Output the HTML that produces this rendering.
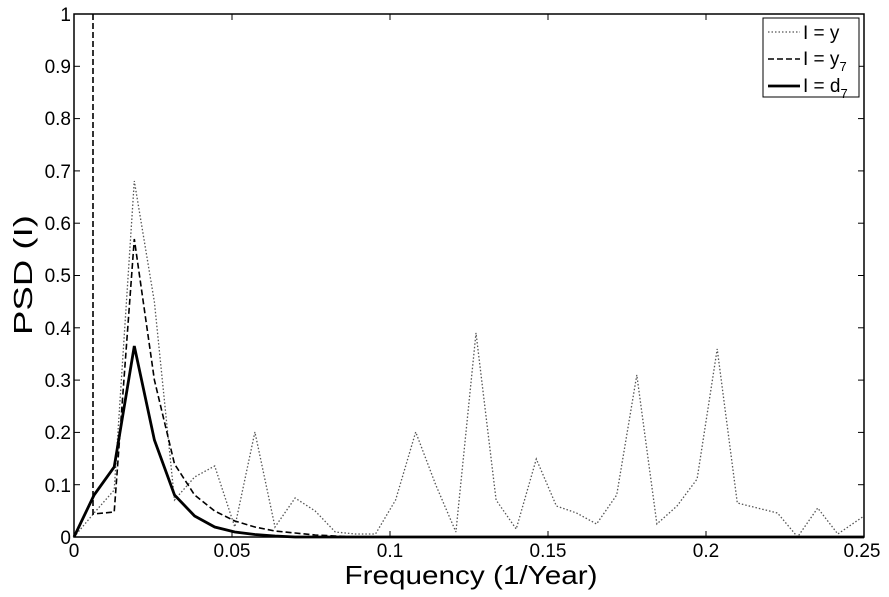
<!DOCTYPE html><html><head><style>body{margin:0;background:#fff}</style></head><body>
<svg width="889" height="592" xmlns="http://www.w3.org/2000/svg" font-family="Liberation Sans, sans-serif">
<rect width="889" height="592" fill="#fff"/>
<g id="plot">
<polyline fill="none" stroke="#555" stroke-width="1.3" stroke-dasharray="1.5,2" points="74,537 94.1,513 114.2,490 134.3,181 154.4,302 174.5,500 194.6,477 214.7,466 234.8,527 254.9,432 275,527 295.1,498 315.2,511 335.3,532 355.4,534 375.5,534 395.6,500 415.7,432 435.8,485 455.9,532 476,333 496.1,500 516.2,529 536.3,459 556.4,506 576.5,513 596.6,524 616.7,495 636.8,375 656.9,524 677,506 697.1,479 717.2,349 737.3,503 757.4,508 777.5,513 797.6,537 817.7,508 837.8,534 864,516"/>
<polyline fill="none" stroke="#000" stroke-width="1.6" stroke-dasharray="6,3" points="93,14 93,514 114.2,512 134.3,239 154.4,380 174.5,464 194.6,495 214.7,511 234.8,521 254.9,527 275,531 295.1,533 315.2,535 335.3,536 355.4,537 864,537"/>
<polyline fill="none" stroke="#000" stroke-width="2.8" points="74,537 94.1,495 114.2,467 134.3,346 154.4,440 174.5,495 194.6,516 214.7,527 234.8,532 254.9,534.5 275,536 295.1,537 864,537"/>
</g>
<rect x="74" y="14" width="790" height="523" fill="none" stroke="#000" stroke-width="1.5"/>
<g stroke="#000" stroke-width="1">
<line x1="74" y1="484.7" x2="80" y2="484.7"/><line x1="74" y1="432.4" x2="80" y2="432.4"/><line x1="74" y1="380.1" x2="80" y2="380.1"/><line x1="74" y1="327.8" x2="80" y2="327.8"/><line x1="74" y1="275.5" x2="80" y2="275.5"/><line x1="74" y1="223.2" x2="80" y2="223.2"/><line x1="74" y1="170.9" x2="80" y2="170.9"/><line x1="74" y1="118.6" x2="80" y2="118.6"/><line x1="74" y1="66.3" x2="80" y2="66.3"/>
<line x1="858" y1="484.7" x2="864" y2="484.7"/><line x1="858" y1="432.4" x2="864" y2="432.4"/><line x1="858" y1="380.1" x2="864" y2="380.1"/><line x1="858" y1="327.8" x2="864" y2="327.8"/><line x1="858" y1="275.5" x2="864" y2="275.5"/><line x1="858" y1="223.2" x2="864" y2="223.2"/><line x1="858" y1="170.9" x2="864" y2="170.9"/><line x1="858" y1="118.6" x2="864" y2="118.6"/><line x1="858" y1="66.3" x2="864" y2="66.3"/>
<line x1="232" y1="537" x2="232" y2="531"/><line x1="390" y1="537" x2="390" y2="531"/><line x1="548" y1="537" x2="548" y2="531"/><line x1="706" y1="537" x2="706" y2="531"/>
<line x1="232" y1="14" x2="232" y2="20"/><line x1="390" y1="14" x2="390" y2="20"/><line x1="548" y1="14" x2="548" y2="20"/><line x1="706" y1="14" x2="706" y2="20"/>
</g>
<g font-size="19" text-anchor="end">
<text x="71" y="544">0</text><text x="71" y="492">0.1</text><text x="71" y="439">0.2</text><text x="71" y="387">0.3</text><text x="71" y="335">0.4</text><text x="71" y="282">0.5</text><text x="71" y="230">0.6</text><text x="71" y="178">0.7</text><text x="71" y="125">0.8</text><text x="71" y="73">0.9</text><text x="71" y="21">1</text>
</g>
<g font-size="19" text-anchor="middle">
<text x="74" y="557">0</text><text x="232" y="557">0.05</text><text x="390" y="557">0.1</text><text x="548" y="557">0.15</text><text x="706" y="557">0.2</text><text x="862" y="557">0.25</text>
</g>
<text x="471" y="584" font-size="26" text-anchor="middle" textLength="253" lengthAdjust="spacingAndGlyphs">Frequency (1/Year)</text>
<text transform="translate(32,275) rotate(-90)" font-size="26" text-anchor="middle" textLength="120" lengthAdjust="spacingAndGlyphs">PSD (I)</text>
<rect x="763" y="18" width="96" height="79" fill="#fff" stroke="#000" stroke-width="1"/>
<line x1="768" y1="32" x2="800" y2="32" stroke="#555" stroke-width="1.3" stroke-dasharray="1.5,2"/>
<line x1="768" y1="59" x2="800" y2="59" stroke="#000" stroke-width="1.6" stroke-dasharray="6,3"/>
<line x1="768" y1="86" x2="800" y2="86" stroke="#000" stroke-width="2.8"/>
<g font-size="19"><text x="803" y="39">I = y</text><text x="803" y="65">I = y<tspan font-size="13" dy="6">7</tspan></text><text x="803" y="92">I = d<tspan font-size="13" dy="6">7</tspan></text></g>
</svg></body></html>
